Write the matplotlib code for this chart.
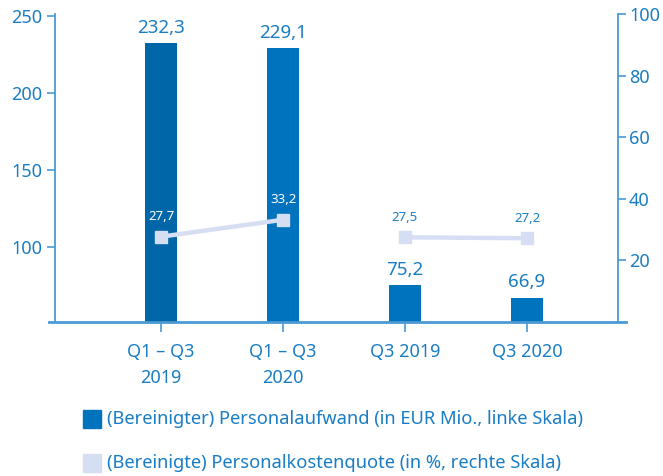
import numpy as np
import matplotlib.pyplot as plt
import matplotlib.patches as mpatches

plt.rcParams['font.family'] = ['Noto Sans', 'DejaVu Sans']

# data
categories = ['Q1 – Q3\n2019', 'Q1 – Q3\n2020', 'Q3 2019', 'Q3 2020']
aufwand = [232.3, 229.1, 75.2, 66.9]
quote = [27.7, 33.2, 27.5, 27.2]
# line is drawn in two pieces: 9-month values and quarter values
line_groups = [[0, 1], [2, 3]]
legend_labels = ['(Bereinigter) Personalaufwand (in EUR Mio., linke Skala)',
                 '(Bereinigte) Personalkostenquote (in %, rechte Skala)']

# colours
text_c = '#1a7dc4'
axis_c = '#4a9bd4'
bar_c = ['#0066a8', '#0073bf', '#0073bf', '#0073bf']
line_c = '#d5def2'


def fmt(v):
    return ('%.1f' % v).replace('.', ',')


fig = plt.figure(figsize=(6.63, 4.76), dpi=100)
ax = fig.add_axes([55/663, 1-322/476, (618-55)/663, (322-14)/476])
ax2 = ax.twinx()

x = np.arange(len(categories))
ax.bar(x, aufwand, width=0.255, color=bar_c, zorder=2)
for xi, v in zip(x, aufwand):
    ax.text(xi, v + 4, fmt(v), ha='center', va='bottom', color=text_c,
            fontsize=13.5)

ax.set_xlim(-0.869, 3.746)
ax.set_ylim(51, 251)
ax.set_yticks([100, 150, 200, 250])
ax.set_xticks(x)
ax.set_xticklabels(categories, linespacing=1.55)

ax2.set_ylim(0, 100)
ax2.set_yticks([20, 40, 60, 80, 100])

for g in line_groups:
    ax2.plot(x[g], [quote[i] for i in g], color=line_c, lw=3.2, marker='s',
             markersize=9, zorder=3, solid_capstyle='butt')
for i, v in enumerate(quote):
    c = 'white' if i < 2 else text_c
    ax2.text(x[i], v + 4.4, fmt(v), ha='center', va='bottom', color=c,
             fontsize=9.5)

# axes styling
for a in (ax, ax2):
    for s in a.spines.values():
        s.set_visible(False)
ax.spines['left'].set_visible(True)
ax.spines['left'].set_color(axis_c)
ax.spines['left'].set_linewidth(1.3)
ax2.spines['right'].set_visible(True)
ax2.spines['right'].set_color(axis_c)
ax2.spines['right'].set_linewidth(1.3)
ax.plot([-0.011, 1.014], [0, 0], transform=ax.transAxes, color=axis_c,
        lw=2, clip_on=False, zorder=5)

ax.tick_params(axis='y', colors=axis_c, labelcolor=text_c, labelsize=13,
               length=6, width=1.2, pad=3)
ax.tick_params(axis='x', colors=axis_c, labelcolor=text_c, labelsize=13,
               length=7, width=1.2, pad=8)
ax2.tick_params(axis='y', colors=axis_c, labelcolor=text_c, labelsize=13,
                length=6, width=1.2, pad=2)

# legend
items = [(bar_c[1], 419), (line_c, 463)]
for (c, yp), lab in zip(items, legend_labels):
    fig.patches.append(mpatches.Rectangle((83/663, 1-(yp+9)/476), 18/663,
                                          18/476, transform=fig.transFigure,
                                          color=c))
    fig.text(107/663, 1-yp/476, lab, ha='left', va='center', color=text_c,
             fontsize=13.2)

fig.savefig('out.png', dpi=100)
